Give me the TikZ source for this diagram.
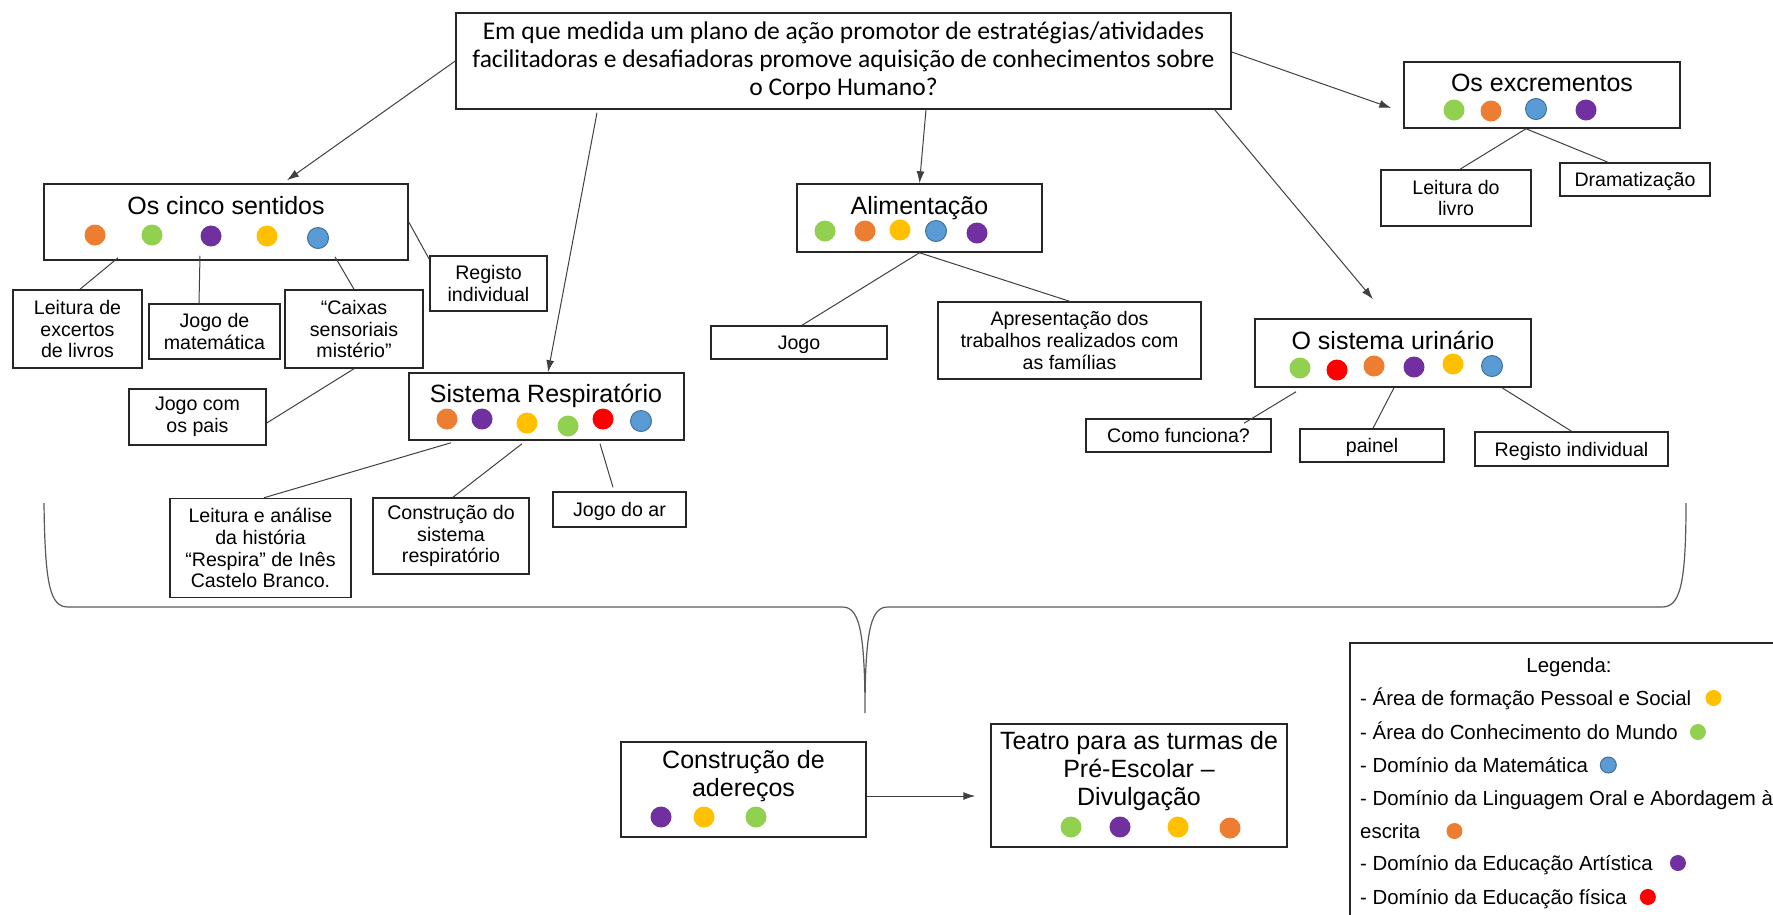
\documentclass[tikz,border=0pt]{standalone}
\usepackage{fontspec}
\setmainfont{Liberation Sans}
\newfontfamily\calib{Carlito}
\usetikzlibrary{arrows.meta}
\definecolor{cOr}{HTML}{ED7D31}
\definecolor{cGr}{HTML}{92D050}
\definecolor{cPu}{HTML}{7030A0}
\definecolor{cYe}{HTML}{FFC000}
\definecolor{cBl}{HTML}{5B9BD5}
\definecolor{cBlO}{HTML}{41719C}
\definecolor{cRe}{HTML}{FF0000}
\begin{document}
\begin{tikzpicture}[x=1pt,y=-1pt,
 bx/.style 2 args={draw=black!85, line width=1.5pt, minimum width=#1, minimum height=#2, inner sep=0pt},
 st/.style={font=\fontsize{19.6}{21.8}\selectfont, align=center, inner sep=0pt},
 one/.style={text height=14pt, text depth=0pt},
 tt/.style={font=\fontsize{25}{28.5}\selectfont, align=center, inner sep=0pt, text height=18pt, text depth=0pt},
 tm/.style={font=\fontsize{25}{28}\selectfont, align=center, inner sep=0pt},
 con/.style={draw=black!75, line width=1pt},
 arr/.style={con, -{Latex[length=12pt,width=8pt]}},
 dot/.style={circle, fill=#1, minimum size=21pt, inner sep=0pt},
 bdot/.style={dot=cBl, draw=cBlO, line width=1pt},
 ldot/.style={circle, fill=#1, minimum size=16pt, inner sep=0pt},
 lt/.style={font=\fontsize{20.4}{24}\selectfont, anchor=west, inner sep=0pt, text height=14.7pt, text depth=0pt},
 bracestyle/.style={draw=black!65, line width=1.2pt}
]
\useasboundingbox (0,0) rectangle (1773,914);

% main question
\node[bx={775pt}{96pt}, font=\calib\fontsize{25.5}{28}\selectfont, align=center] (main) at (843.5,61)
 {Em que medida um plano de ação promotor de estratégias/atividades\\facilitadoras e desafiadoras promove aquisição de conhecimentos sobre\\o Corpo Humano?};

% Os cinco sentidos
\node[bx={364pt}{76pt}] (cinco) at (226,222) {};
\node[tt] (cincoT) at (226,205) {Os cinco sentidos};
\node[dot=cOr] (c1) at (95,235) {};
\node[dot=cGr] (c2) at (152,235) {};
\node[dot=cPu] (c3) at (211,236) {};
\node[dot=cYe] (c4) at (267,236) {};
\node[bdot] (c5) at (318,238) {};
\node[bx={117pt}{55pt}, st] (reg1) at (488.5,283.5) {Registo\\individual};
\node[bx={129pt}{78pt}, st] (leit1) at (77.5,329) {Leitura de\\excertos\\de livros};
\node[bx={131pt}{55pt}, st] (jmat) at (214.5,331.5) {Jogo de\\matemática};
\node[bx={138pt}{78pt}, st] (caixas) at (354,329) {“Caixas\\sensoriais\\mistério”};
\node[bx={137pt}{56pt}, st] (jpais) at (197.5,417) {Jogo com\\os pais};

% Sistema respiratorio
\node[bx={275pt}{67pt}] (resp) at (546.5,406.5) {};
\node[tt] (respT) at (546,393) {Sistema Respiratório};
\node[dot=cOr] (r1) at (447,419) {};
\node[dot=cPu] (r2) at (482,419) {};
\node[dot=cYe] (r3) at (527,423) {};
\node[dot=cGr] (r4) at (568,426) {};
\node[dot=cRe] (r5) at (603,419) {};
\node[bdot] (r6) at (641,421) {};
\node[bx={181pt}{99pt}, st] (leit2) at (260.5,548) {Leitura e análise\\da história\\“Respira” de Inês\\Castelo Branco.};
\node[bx={156pt}{76pt}, st] (constr) at (451,536) {Construção do\\sistema\\respiratório};
\node[bx={133pt}{35pt}, st, one] (jar) at (619.5,509.5) {Jogo do ar};

% Alimentacao
\node[bx={245pt}{68pt}] (alim) at (919.5,218) {};
\node[tt] (alimT) at (919.5,205) {Alimentação};
\node[dot=cGr] (a1) at (825,231) {};
\node[dot=cOr] (a2) at (865,231) {};
\node[dot=cYe] (a3) at (900,230) {};
\node[bdot] (a4) at (936,231) {};
\node[dot=cPu] (a5) at (977,233) {};
\node[bx={176pt}{33pt}, st, one] (jogo) at (799,342.5) {Jogo};
\node[bx={263pt}{77pt}, st] (apres) at (1069.5,340.5) {Apresentação dos\\trabalhos realizados com\\as famílias};

% Os excrementos
\node[bx={276pt}{66pt}] (exc) at (1542,95) {};
\node[tt] (excT) at (1542,82) {Os excrementos};
\node[dot=cGr] (e1) at (1454,110) {};
\node[dot=cOr] (e2) at (1491,111) {};
\node[bdot] (e3) at (1536,109) {};
\node[dot=cPu] (e4) at (1586,110) {};
\node[bx={150pt}{56pt}, st] (lliv) at (1456,198) {Leitura do\\livro};
\node[bx={150pt}{33pt}, st, one] (dram) at (1635,179.5) {Dramatização};

% O sistema urinario
\node[bx={276pt}{68pt}] (urin) at (1393,353) {};
\node[tt] (urinT) at (1393,340) {O sistema urinário};
\node[dot=cGr] (u1) at (1300,368) {};
\node[dot=cRe] (u2) at (1337,370) {};
\node[dot=cOr] (u3) at (1374,366) {};
\node[dot=cPu] (u4) at (1414,367) {};
\node[dot=cYe] (u5) at (1453,364) {};
\node[bdot] (u6) at (1492,366) {};
\node[bx={185pt}{33pt}, st, one] (como) at (1178.5,435.5) {Como funciona?};
\node[bx={144pt}{33pt}, st, one] (painel) at (1372,445.5) {painel};
\node[bx={193pt}{34pt}, st, one] (reg2) at (1571.5,449) {Registo individual};

% bottom
\node[bx={245pt}{95pt}] (adere) at (743.5,789.5) {};
\node[tm] (adereT) at (743.5,776) {Construção de\\adereços};
\node[dot=cPu] (d1) at (661,817) {};
\node[dot=cYe] (d2) at (704,817) {};
\node[dot=cGr] (d3) at (756,817) {};
\node[bx={296pt}{123pt}] (teatro) at (1139,785.5) {};
\node[tm] (teatroT) at (1139,771.5) {Teatro para as turmas de\\Pré-Escolar –\\Divulgação};
\node[dot=cGr] (t1) at (1071,827) {};
\node[dot=cPu] (t2) at (1120,827) {};
\node[dot=cYe] (t3) at (1178,827) {};
\node[dot=cOr] (t4) at (1230,828) {};

% legend
\node[bx={430pt}{278pt}] (legend) at (1565,782) {};
\node[font=\fontsize{20.4}{24}\selectfont, inner sep=0pt, text height=14.7pt, text depth=0pt] (lgT) at (1569,665) {Legenda:};
\node[lt] (lg1) at (1360,698) {- Área de formação Pessoal e Social};
\node[ldot=cYe] (ld1) at ([xshift=22pt]lg1.east) {};
\node[lt] (lg2) at (1360,732) {- Área do Conhecimento do Mundo};
\node[ldot=cGr] (ld2) at ([xshift=20pt]lg2.east) {};
\node[lt] (lg3) at (1360,765) {- Domínio da Matemática};
\node[ldot=cBl, draw=cBlO, line width=1pt] (ld3) at ([xshift=20pt]lg3.east) {};
\node[lt] (lg4) at (1360,798) {- Domínio da Linguagem Oral e Abordagem à};
\node[lt] (lg5) at (1360,831) {escrita};
\node[ldot=cOr] (ld5) at ([xshift=34pt]lg5.east) {};
\node[lt] (lg6) at (1360,863) {- Domínio da Educação Artística};
\node[ldot=cPu] (ld6) at ([xshift=25pt]lg6.east) {};
\node[lt] (lg7) at (1360,897) {- Domínio da Educação física};
\node[ldot=cRe] (ld7) at ([xshift=21pt]lg7.east) {};

% arrows from main
\draw[arr] (main.west) -- ([xshift=61pt,yshift=3pt]cinco.north);
\draw[arr] ([xshift=-246.5pt,yshift=-3pt]main.south) -- ([xshift=1.5pt]resp.north);
\draw[arr] ([xshift=82.5pt]main.south) -- (alim.north);
\draw[arr] ([yshift=9pt]main.east) -- ([xshift=-12pt,yshift=-13pt]exc.west);
\draw[arr] ([xshift=-17pt]main.south east) -- ([xshift=-20pt,yshift=19pt]urin.north);
\draw[arr] ([yshift=-6.5pt]adere.east) -- ([xshift=-15pt,yshift=-10.5pt]teatro.west);

% plain connectors
\draw[con] (cinco.east) -- ([yshift=-4pt]reg1.north west);
\draw[con] ([xshift=-108pt,yshift=3pt]cinco.south) -- ([xshift=2.5pt]leit1.north);
\draw[con] ([xshift=-26pt,yshift=5pt]cinco.south) -- ([xshift=-15.5pt]jmat.north);
\draw[con] ([xshift=109pt,yshift=4pt]cinco.south) -- (caixas.north);
\draw[con] (caixas.south) -- ([yshift=-6pt]jpais.east);
\draw[con] ([xshift=-95.5pt,yshift=-2pt]resp.south) -- ([xshift=3.5pt]leit2.north);
\draw[con] ([xshift=-24.5pt,yshift=-3pt]resp.south) -- ([xshift=2pt]constr.north);
\draw[con] ([xshift=53.5pt,yshift=-3pt]resp.south) -- ([xshift=-6.5pt,yshift=4pt]jar.north);
\draw[con] (alim.south) -- ([xshift=3pt]jogo.north);
\draw[con] (alim.south) -- (apres.north);
\draw[con] ([xshift=-16pt]exc.south) -- ([xshift=4pt]lliv.north);
\draw[con] ([xshift=-16pt]exc.south) -- ([xshift=-27pt]dram.north);
\draw[con] ([xshift=-97pt,yshift=-4pt]urin.south) -- ([xshift=65.5pt,yshift=-5pt]como.north);
\draw[con] ([xshift=1pt]urin.south) -- ([xshift=1pt]painel.north);
\draw[con] ([xshift=109pt]urin.south) -- (reg2.north);

% brace
\draw[bracestyle] (44,503) .. controls (45,585) and (50,607) .. (68,607) -- (842,607)
  .. controls (858,607) and (865,625) .. (865,713)
  .. controls (865,625) and (872,607) .. (888,607) -- (1662,607)
  .. controls (1680,607) and (1686,585) .. (1686,503);
\end{tikzpicture}
\end{document}
